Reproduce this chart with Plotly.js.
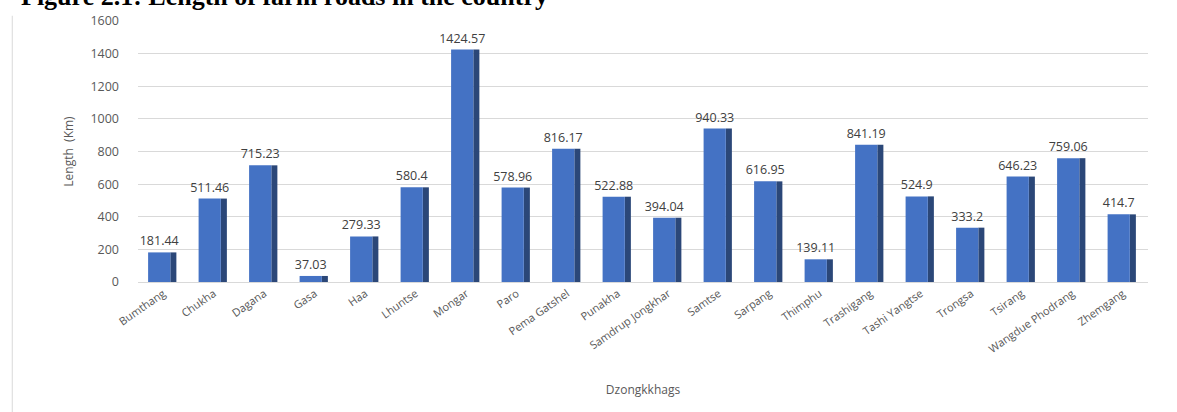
<!DOCTYPE html>
<html>
<head>
<meta charset="utf-8">
<script src="https://cdn.plot.ly/plotly-3.0.1.min.js"></script>
<style>
html,body{margin:0;padding:0;background:#fff;}
#chart{width:1177px;height:412px;}
</style>
</head>
<body>
<div id="chart"></div>
<script>
const categories = ["Bumthang","Chukha","Dagana","Gasa","Haa","Lhuntse","Mongar","Paro","Pema Gatshel","Punakha","Samdrup Jongkhar","Samtse","Sarpang","Thimphu","Trashigang","Tashi Yangtse","Trongsa","Tsirang","Wangdue Phodrang","Zhemgang"];
const lengths = [181.44,511.46,715.23,37.03,279.33,580.4,1424.57,578.96,816.17,522.88,394.04,940.33,616.95,139.11,841.19,524.9,333.2,646.23,759.06,414.7];
const yTicks = [0,200,400,600,800,1000,1200,1400,1600];

const side = {
  type:'bar', x:categories, y:lengths, width:0.12, offset:0.14,
  marker:{color:'#2b4778'}, hoverinfo:'skip', showlegend:false
};
const front = {
  type:'bar', x:categories, y:lengths, width:0.44, offset:-0.30,
  marker:{color:'#4472c4'},
  text:lengths.map(v=>String(v)), textposition:'outside', cliponaxis:false, constraintext:'none',
  textfont:{family:'Open Sans, Calibri, sans-serif', size:12.5, color:'#404040'},
  showlegend:false
};

const layout = {
  width:1177, height:412,
  margin:{l:138, r:29, t:21, b:130},
  paper_bgcolor:'#fff', plot_bgcolor:'#fff',
  barmode:'overlay',
  font:{family:'Open Sans, Calibri, sans-serif', color:'#595959'},
  xaxis:{
    tickangle:-35, tickfont:{size:11, color:'#595959'},
    showline:true, linecolor:'#d9d9d9', showgrid:false, ticks:'',
    title:{text:'Dzongkkhags', font:{size:12, color:'#595959'}, standoff:30}
  },
  yaxis:{
    range:[0,1600], tickvals:yTicks, showgrid:true, gridcolor:'#d9d9d9', gridwidth:1,
    zeroline:false, tickfont:{size:12.5, color:'#595959'}, ticklabelstandoff:18,
    title:{text:'Length  (Km)', font:{size:12, color:'#595959'}, standoff:14}
  },
  annotations:[{
    xref:'paper', yref:'paper', x:-0.118, y:1.095, xanchor:'left', yanchor:'middle',
    text:'<b>Figure 2.1: Length of farm roads in the country</b>', showarrow:false,
    font:{family:'Liberation Serif, Times New Roman, serif', size:26, color:'#000'}
  }],
  shapes:[{
    type:'line', xref:'paper', yref:'paper', x0:-0.1245, x1:-0.1245, y0:1.02, y1:-0.5,
    line:{color:'#d9d9d9', width:1}
  }]
};
Plotly.newPlot('chart',[side, front],layout,{displayModeBar:false, staticPlot:true});
</script>
</body>
</html>
